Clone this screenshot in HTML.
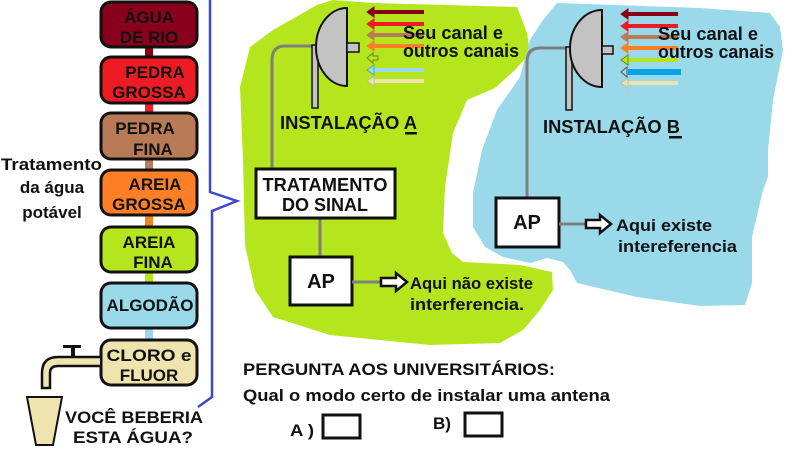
<!DOCTYPE html>
<html><head><meta charset="utf-8"><style>
html,body{margin:0;padding:0;background:#fff;}
svg{display:block;}
text{font-family:"Liberation Sans",Arial,sans-serif;font-weight:bold;fill:#111;}
</style></head><body>
<svg width="800" height="461" viewBox="0 0 800 461" xmlns="http://www.w3.org/2000/svg">
<path d="M317,5 L333,0 L373,3 L517,7 L527,33 L530,53 L515,70 L495,88 L467,100 L453,133 L445,187 L443,233 L452,253 L463,262 L520,265 L552,272 L553,290 L540,310 L523,330 L500,343 L430,345 L330,335 L273,317 L255,290 L245,245 L243,160 L240,87 L250,47 L273,30 Z" fill="#b5e61d"/>
<path d="M557,3 L700,8 L770,13 L780,27 L783,50 L773,100 L768,150 L768,177 L763,190 L752,237 L752,283 L745,305 L700,306 L637,297 L577,283 L570,270 L563,262 L547,258 L530,263 L503,257 L485,247 L473,227 L473,193 L482,150 L497,110 L520,77 L530,40 L543,20 Z" fill="#99d9ea"/>

<g stroke="#111" stroke-width="3">
<rect x="145" y="46" width="8" height="12" fill="#8b0018" stroke="none"/>
<rect x="145" y="102" width="8" height="12" fill="#e8202a" stroke="none"/>
<rect x="145" y="158" width="8" height="12" fill="#b87a5a" stroke="none"/>
<rect x="145" y="214" width="8" height="14" fill="#f5821f" stroke="none"/>
<rect x="145" y="271" width="8" height="13" fill="#b5e61d" stroke="none"/>
<rect x="145" y="327" width="8" height="13" fill="#99d9ea" stroke="none"/>
<rect x="101" y="2" width="96" height="45" rx="10" fill="#88001b"/>
<rect x="101" y="57" width="96" height="46" rx="10" fill="#ed1c24"/>
<rect x="101" y="113" width="96" height="46" rx="10" fill="#b97a57"/>
<rect x="101" y="170" width="96" height="45" rx="10" fill="#ff7f27"/>
<rect x="101" y="227" width="96" height="45" rx="10" fill="#b5e61d"/>
<rect x="101" y="283" width="96" height="45" rx="10" fill="#99d9ea"/>
<rect x="101" y="340" width="96" height="45" rx="10" fill="#efe4b0"/>
</g>
<g font-size="17" text-anchor="middle">
<text x="149" y="23">ÁGUA</text><text x="149" y="43">DE RIO</text>
<text x="155" y="78">PEDRA</text><text x="149" y="98">GROSSA</text>
<text x="145" y="134">PEDRA</text><text x="153" y="155">FINA</text>
<text x="155" y="190">AREIA</text><text x="149" y="210">GROSSA</text>
<text x="149" y="248">AREIA</text><text x="153" y="268">FINA</text>
<text x="150" y="311">ALGODÃO</text>
<text x="149" y="361" textLength="85" lengthAdjust="spacingAndGlyphs">CLORO  e</text><text x="149" y="381">FLUOR</text>
</g>
<path d="M100,357 L58,357 Q42,357 42,373 L42,388 L50,388 L50,373 Q50,366 58,366 L100,366" fill="#efe4b0" stroke="#111" stroke-width="2.5"/>
<rect x="71" y="347" width="4" height="11" fill="#111"/>
<rect x="63" y="345" width="18" height="3" fill="#111"/>
<path d="M27,397 L62,397 L53,445 L36,445 Z" fill="#efe4b0" stroke="#111" stroke-width="2"/>
<polyline points="210,0 210,192 237,201 212,211 212,397 198,407" fill="none" stroke="#3f48cc" stroke-width="2.5"/>
<g font-size="17">
<text x="1" y="170" textLength="101" lengthAdjust="spacingAndGlyphs">Tratamento</text>
<text x="52" y="193" text-anchor="middle">da água</text>
<text x="52" y="218" text-anchor="middle">potável</text>
<text x="65" y="423" textLength="138" lengthAdjust="spacingAndGlyphs">VOCÊ BEBERIA</text>
<text x="73" y="443" textLength="120" lengthAdjust="spacingAndGlyphs">ESTA ÁGUA?</text>
</g>

<path d="M313,46 L285,46 Q272,46 272,60 L272,170" fill="none" stroke="#7f7f7f" stroke-width="3"/>
<rect x="312" y="45" width="6" height="63" fill="#c3c3c3" stroke="#111" stroke-width="1.5"/>
<path d="M347,8 L347,86 A31,39 0 0 1 347,8 Z" fill="#c3c3c3" stroke="#111" stroke-width="2"/>
<rect x="347" y="43" width="12" height="9" fill="#c3c3c3" stroke="#111" stroke-width="1.5"/>
<g stroke-width="4">
<line x1="372" y1="12" x2="424" y2="12" stroke="#880015"/>
<line x1="372" y1="24" x2="424" y2="24" stroke="#ed1c24"/>
<line x1="372" y1="35" x2="424" y2="35" stroke="#b97a57"/>
<line x1="372" y1="46" x2="424" y2="46" stroke="#ff7f27"/>
<line x1="372" y1="70" x2="424" y2="70" stroke="#99d9ea"/>
<line x1="372" y1="81" x2="424" y2="81" stroke="#efe4b0"/>
</g>
<g stroke-width="1">
<path d="M367,12 L374,7 L374,17 Z" fill="#880015" stroke="#880015"/>
<path d="M367,24 L374,19 L374,29 Z" fill="#ed1c24" stroke="#ed1c24"/>
<path d="M367,35 L374,30 L374,40 Z" fill="#b97a57" stroke="#b97a57"/>
<path d="M367,46 L374,41 L374,51 Z" fill="#ff7f27" stroke="#ff7f27"/>
<path d="M367,58 L373,53 L373,56 L378,56 L378,60 L373,60 L373,63 Z" fill="none" stroke="#6a8a10"/>
<path d="M367,70 L374,65 L374,75 Z" fill="#99d9ea" stroke="#5aa"/>
<path d="M367,81 L374,76 L374,86 Z" fill="#efe4b0" stroke="#bba"/>
</g>
<g font-size="18">
<text x="403" y="39" textLength="100" lengthAdjust="spacingAndGlyphs">Seu  canal e</text>
<text x="403" y="57" textLength="116" lengthAdjust="spacingAndGlyphs">outros canais</text>
<text x="280" y="129" textLength="137" lengthAdjust="spacingAndGlyphs">INSTALAÇÃO A</text>
</g>
<rect x="405" y="132" width="12" height="2.5" fill="#111"/>
<line x1="320" y1="218" x2="320" y2="256" stroke="#7f7f7f" stroke-width="3"/>
<rect x="256" y="169" width="139" height="49" fill="#fff" stroke="#111" stroke-width="3"/>
<text x="325" y="191" font-size="18" text-anchor="middle" textLength="125" lengthAdjust="spacingAndGlyphs">TRATAMENTO</text>
<text x="325" y="211" font-size="18" text-anchor="middle">DO SINAL</text>
<rect x="290" y="257" width="62" height="48" fill="#fff" stroke="#111" stroke-width="3"/>
<text x="321" y="288" font-size="20" text-anchor="middle">AP</text>
<line x1="352" y1="282" x2="382" y2="282" stroke="#7f7f7f" stroke-width="3"/>
<path d="M381,278 L396,278 L396,273 L407,282 L396,291 L396,286 L381,286 Z" fill="#fff" stroke="#111" stroke-width="2.5"/>
<text x="410" y="289" font-size="17" textLength="123" lengthAdjust="spacingAndGlyphs">Aqui não existe</text>
<text x="410" y="310" font-size="17" textLength="114" lengthAdjust="spacingAndGlyphs">interferencia.</text>

<path d="M566,48 L540,48 Q527,48 527,62 L527,198" fill="none" stroke="#7f7f7f" stroke-width="3"/>
<rect x="566" y="47" width="6" height="63" fill="#c3c3c3" stroke="#111" stroke-width="1.5"/>
<path d="M602,10 L602,87 A32,38.5 0 0 1 602,10 Z" fill="#c3c3c3" stroke="#111" stroke-width="2"/>
<rect x="602" y="46" width="11" height="8" fill="#c3c3c3" stroke="#111" stroke-width="1.5"/>
<g stroke-width="4">
<line x1="626" y1="14" x2="678" y2="14" stroke="#880015"/>
<line x1="626" y1="26" x2="678" y2="26" stroke="#ed1c24"/>
<line x1="626" y1="37" x2="678" y2="37" stroke="#b97a57"/>
<line x1="626" y1="48" x2="678" y2="48" stroke="#ff7f27"/>
<line x1="626" y1="60" x2="678" y2="60" stroke="#b5e61d"/>
<line x1="628" y1="72" x2="681" y2="72" stroke="#00a2e8" stroke-width="6"/>
<line x1="626" y1="83" x2="678" y2="83" stroke="#efe4b0"/>
</g>
<g stroke-width="1">
<path d="M621,14 L628,9 L628,19 Z" fill="#880015" stroke="#880015"/>
<path d="M621,26 L628,21 L628,31 Z" fill="#ed1c24" stroke="#ed1c24"/>
<path d="M621,37 L628,32 L628,42 Z" fill="#b97a57" stroke="#b97a57"/>
<path d="M621,48 L628,43 L628,53 Z" fill="#ff7f27" stroke="#ff7f27"/>
<path d="M621,60 L628,55 L628,65 Z" fill="#b5e61d" stroke="#6a8a10"/>
<path d="M621,72 L627,67 L627,77 Z" fill="#99d9ea" stroke="#555"/>
<path d="M621,83 L628,78 L628,88 Z" fill="#efe4b0" stroke="#bba"/>
</g>
<g font-size="18">
<text x="658" y="40" textLength="100" lengthAdjust="spacingAndGlyphs">Seu  canal e</text>
<text x="658" y="58" textLength="116" lengthAdjust="spacingAndGlyphs">outros canais</text>
<text x="543" y="133" textLength="137" lengthAdjust="spacingAndGlyphs">INSTALAÇÃO B</text>
</g>
<rect x="669" y="136" width="13" height="2.5" fill="#111"/>
<rect x="496" y="198" width="63" height="49" fill="#fff" stroke="#111" stroke-width="3"/>
<text x="527" y="229" font-size="20" text-anchor="middle">AP</text>
<line x1="559" y1="224" x2="587" y2="224" stroke="#7f7f7f" stroke-width="3"/>
<path d="M586,220 L600,220 L600,215 L611,224 L600,233 L600,228 L586,228 Z" fill="#fff" stroke="#111" stroke-width="2.5"/>
<text x="616" y="231" font-size="17" textLength="96" lengthAdjust="spacingAndGlyphs">Aqui existe</text>
<text x="618" y="252" font-size="17" textLength="119" lengthAdjust="spacingAndGlyphs">intereferencia</text>

<text x="243" y="375" font-size="17" textLength="312" lengthAdjust="spacingAndGlyphs">PERGUNTA AOS UNIVERSITÁRIOS:</text>
<text x="243" y="401" font-size="17" textLength="367" lengthAdjust="spacingAndGlyphs">Qual o modo certo de instalar uma antena</text>
<text x="290" y="436" font-size="17" textLength="24" lengthAdjust="spacingAndGlyphs">A )</text>
<rect x="323" y="415" width="37" height="23" fill="#fff" stroke="#111" stroke-width="3"/>
<text x="433" y="429" font-size="17">B)</text>
<rect x="465" y="413" width="37" height="23" fill="#fff" stroke="#111" stroke-width="3"/>
</svg>
</body></html>
